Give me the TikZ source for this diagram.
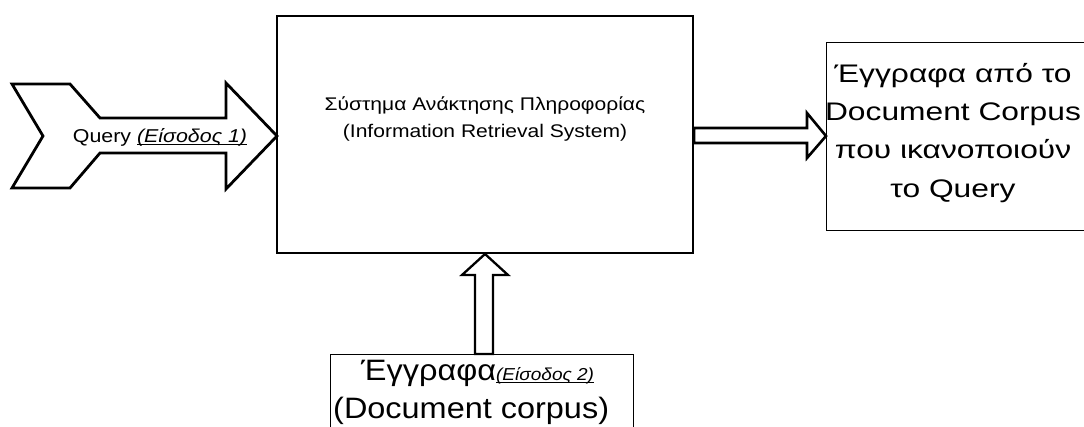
\documentclass[tikz,border=0pt]{standalone}
\usepackage{fontspec}
\setmainfont{Liberation Sans}
\newfontfamily\fA{Liberation Sans}[FakeStretch=1.15]
\newfontfamily\fB{Liberation Sans}[FakeStretch=1.25]
\newfontfamily\fC{Liberation Sans}[FakeStretch=1.1]
\newcommand{\fsz}[2]{\fontsize{#1}{#2}\selectfont}
% underline drawn at a fixed depth below the baseline
\newcommand{\ulin}[2]{\setbox0\hbox{#2}\rlap{\rule[-#1]{\wd0}{0.9pt}}\box0}
\tikzset{
  block/.style={draw=black, line width=1.6pt, fill=white, inner sep=0pt},
  fatarrow/.style={draw=black, line width=2.6pt, fill=white, line join=miter},
  label text/.style={inner sep=0pt, align=center, text=black},
}
\begin{document}
\begin{tikzpicture}[x=1pt, y=-1pt]
  \useasboundingbox (0,0) rectangle (1084,426);
  \clip (0,0) rectangle (1084,426);

  % central system block
  \node[block, line width=2pt, minimum width=416pt, minimum height=237pt] (sys) at (485,134.5) {};
  \node[label text, font=\fA\fsz{18.3}{26.6}, anchor=north] (systext) at (485,97)
    {Σύστημα Ανάκτησης Πληροφορίας\\(Information Retrieval System)};

  % output block (runs past the right edge)
  \node[block, line width=1.4pt, minimum width=270pt, minimum height=188pt, anchor=north west] (out) at (826,42) {};
  \node[label text, font=\fB\fsz{25.4}{38.3}, anchor=north] (outtext) at (953,63)
    {Έγγραφα από το\\Document Corpus\\που ικανοποιούν\\το Query};

  % document corpus block (runs past the bottom edge)
  \node[block, line width=1.4pt, minimum width=303pt, minimum height=80pt, anchor=north west] (docs) at (330,354) {};
  \node[label text, font=\fC\fsz{29.5}{38}, anchor=base west] (docsline1) at (361,380)
    {Έγγραφα{\fsz{17.3}{20}\itshape\ulin{2.4pt}{(Είσοδος 2)}}};
  \node[label text, font=\fC\fsz{29.5}{38}, anchor=base west] (docsline2) at (333,418)
    {(Document corpus)};

  % input arrow with chevron tail: Query
  \coordinate (qtip) at (277,136);
  \draw[fatarrow, line width=2.8pt]
    (12,84) -- (70,84) -- (100,118) -- (226,118) -- (226,83) -- (qtip)
    -- (226,189) -- (226,153) -- (100,153) -- (70,188) -- (12,188) -- (43,136) -- cycle;
  \node[label text, font=\fA\fsz{18.6}{22}] (qtext) at (160,137)
    {Query {\itshape\ulin{2.4pt}{(Είσοδος 1)}}};

  % block arrow from the system to the output
  \coordinate (rtip) at (out.west |- 0,136);
  \draw[fatarrow]
    (sys.east |- 0,128) -- (807,128) -- (807,113) -- (rtip) -- (807,158) -- (807,143) -- (sys.east |- 0,143) -- cycle;

  % block arrow from the documents up into the system
  \coordinate (utip) at (485,254);
  \draw[fatarrow, line width=2.3pt]
    (475,0 |- docs.north) -- (475,275) -- (462,275) -- (utip) -- (508,275) -- (493,275) -- (493,0 |- docs.north) -- cycle;
\end{tikzpicture}
\end{document}
